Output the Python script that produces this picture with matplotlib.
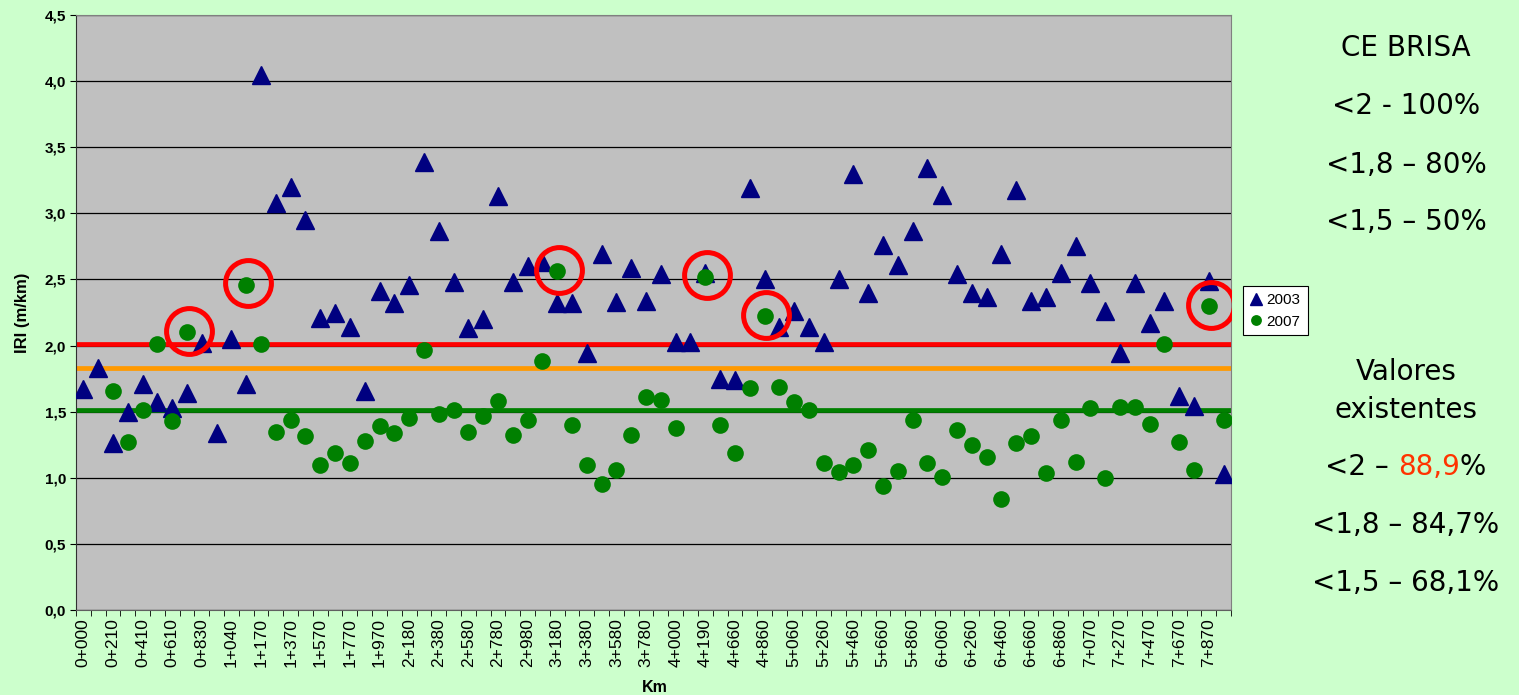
import numpy as np
import matplotlib.pyplot as plt

# chainage (Km) of each survey section; odd ones are not labelled on the axis
km = ['0+000', '0+100', '0+210', '0+310', '0+410', '0+510', '0+610', '0+710',
      '0+830', '0+930', '1+040', '1+100', '1+170', '1+270', '1+370', '1+470',
      '1+570', '1+670', '1+770', '1+870', '1+970', '2+070', '2+180', '2+280',
      '2+380', '2+480', '2+580', '2+680', '2+780', '2+880', '2+980', '3+080',
      '3+180', '3+280', '3+380', '3+480', '3+580', '3+680', '3+780', '3+880',
      '4+000', '4+090', '4+190', '4+560', '4+660', '4+760', '4+860', '4+960',
      '5+060', '5+160', '5+260', '5+360', '5+460', '5+560', '5+660', '5+760',
      '5+860', '5+960', '6+060', '6+160', '6+260', '6+360', '6+460', '6+560',
      '6+660', '6+760', '6+860', '6+960', '7+070', '7+170', '7+270', '7+370',
      '7+470', '7+570', '7+670', '7+770', '7+870', '7+970']

iri_2003 = [1.67, 1.83, 1.26, 1.50, 1.71, 1.57, 1.53, 1.64, 2.02, 1.34,
            2.05, 1.71, 4.05, 3.08, 3.20, 2.95, 2.21, 2.25, 2.14, 1.66,
            2.41, 2.32, 2.46, 3.39, 2.87, 2.48, 2.13, 2.20, 3.13, 2.48,
            2.60, 2.63, 2.32, 2.32, 1.94, 2.69, 2.33, 2.59, 2.34, 2.54,
            2.03, 2.03, 2.55, 1.75, 1.74, 3.19, 2.50, 2.14, 2.26, 2.14,
            2.03, 2.50, 3.30, 2.40, 2.76, 2.61, 2.87, 3.34, 3.14, 2.54,
            2.40, 2.37, 2.69, 3.18, 2.34, 2.37, 2.55, 2.75, 2.47, 2.26,
            1.94, 2.47, 2.17, 2.34, 1.62, 1.54, 2.49, 1.03]

nan = np.nan
iri_2007 = [nan, nan, 1.66, 1.27, 1.515, 2.015, 1.43, 2.10, nan, nan,
            nan, 2.46, 2.015, 1.35, 1.44, 1.315, 1.10, 1.19, 1.11, 1.28,
            1.39, 1.34, 1.45, 1.965, 1.48, 1.51, 1.35, 1.47, 1.58, 1.32,
            1.44, 1.88, 2.565, 1.40, 1.10, 0.95, 1.06, 1.32, 1.61, 1.59,
            1.38, nan, 2.52, 1.40, 1.19, 1.68, 2.22, 1.69, 1.57, 1.515,
            1.11, 1.04, 1.10, 1.21, 0.94, 1.05, 1.44, 1.11, 1.005, 1.36,
            1.25, 1.16, 0.84, 1.26, 1.315, 1.035, 1.44, 1.12, 1.53, 1.00,
            1.535, 1.535, 1.41, 2.01, 1.27, 1.06, 2.30, 1.44]

circled = [7, 11, 32, 42, 46, 76]          # 2007 points marked in red
limits = [2.01, 1.83, 1.51]                 # <2 / <1,8 / <1,5 thresholds
limit_colors = ['#FF0000', '#FF9900', '#008000']

ce_text = ['CE BRISA', '<2 - 100%', '<1,8 – 80%', '<1,5 – 50%']
val_text = ['Valores', 'existentes']
val_pct = [('<2 – ', '88,9', '%'), ('<1,8 – 84,7%', '', ''), ('<1,5 – 68,1%', '', '')]


def run():
    plt.rcParams['font.family'] = ['Liberation Sans', 'DejaVu Sans']

    fig = plt.figure(figsize=(15.19, 6.95), dpi=100, facecolor='#CCFFCC')
    ax = fig.add_axes([0.050, 0.1223, 0.7604, 0.8561], facecolor='#C0C0C0')

    x = np.arange(len(km))
    y03 = np.array(iri_2003)
    y07 = np.array(iri_2007)

    for lim, c in zip(limits, limit_colors):
        ax.axhline(lim, color=c, lw=3.4, zorder=2)

    ax.plot(x, y03, ls='none', marker='^', ms=13, color='#000080',
            label='2003', zorder=3)
    ax.plot(x, y07, ls='none', marker='o', ms=12, color='#008000', mew=0,
            label='2007', zorder=4)
    ax.plot(x[circled] + 0.12, y07[circled] + 0.01, ls='none', marker='o', ms=33,
            mfc='none', mec='#FF0000', mew=3.6, zorder=5)

    ax.set_xlim(-0.5, len(km) - 0.5)
    ax.set_ylim(0, 4.5)
    yt = np.arange(0, 4.51, 0.5)
    ax.set_yticks(yt)
    ax.set_yticklabels(['{:.1f}'.format(v).replace('.', ',') for v in yt],
                       fontsize=11, fontweight='bold')
    ax.yaxis.grid(True, color='black', lw=0.9)
    ax.set_axisbelow(True)

    ax.set_xticks(x[::2])
    ax.set_xticklabels(km[::2], rotation=90, fontsize=12.5)
    ax.set_xticks(np.arange(-0.5, len(km), 1), minor=True)
    ax.tick_params(axis='x', which='major', length=0, pad=6)
    ax.tick_params(axis='x', which='minor', length=4, direction='out', color='black')
    ax.tick_params(axis='y', length=4, direction='out', color='black', pad=3)

    for s in ['top', 'right']:
        ax.spines[s].set_color('#808080')
    ax.spines['left'].set_color('#303030')
    ax.spines['bottom'].set_color('#606060')

    fig.text(0.0145, 0.55, 'IRI (m/km)', rotation=90, ha='center', va='center',
             fontsize=12, fontweight='bold')
    fig.text(655 / 1519, 1 - 688 / 695, 'Km', ha='center', va='center',
             fontsize=11.5, fontweight='bold')

    leg = ax.legend(loc='upper left', bbox_to_anchor=(1243 / 1519, 1 - 286 / 695),
                    bbox_transform=fig.transFigure, frameon=True, fancybox=False,
                    edgecolor='black', facecolor='white', framealpha=1,
                    fontsize=11, markerscale=0.65, handlelength=0.8,
                    handletextpad=0.3, borderpad=0.45, labelspacing=0.5,
                    borderaxespad=0)
    leg.get_frame().set_linewidth(0.8)

    # text block on the right
    tx = 1406 / 1519
    tfont = dict(fontsize=20, family=['DejaVu Sans'], ha='center', va='center')
    for t, yp in zip(ce_text, [48, 106, 165, 222]):
        fig.text(tx, 1 - yp / 695, t, **tfont)
    for t, yp in zip(val_text, [372, 410]):
        fig.text(tx, 1 - yp / 695, t, **tfont)

    mid = fig.text(tx + 0.015, 1 - 467 / 695, val_pct[0][1], color='#FF3300',
                   fontsize=20, family=['DejaVu Sans'], ha='center', va='center')
    ax.annotate(val_pct[0][0], xy=(0, 0), xycoords=mid, ha='right', va='bottom',
                fontsize=20, family=['DejaVu Sans'], annotation_clip=False)
    ax.annotate(val_pct[0][2], xy=(1, 0), xycoords=mid, ha='left', va='bottom',
                fontsize=20, family=['DejaVu Sans'], annotation_clip=False)
    for (t, _, _), yp in zip(val_pct[1:], [525, 583]):
        fig.text(tx, 1 - yp / 695, t, **tfont)

    fig.savefig('out.png', dpi=100, facecolor=fig.get_facecolor())


if __name__ == "__main__":

    run()
